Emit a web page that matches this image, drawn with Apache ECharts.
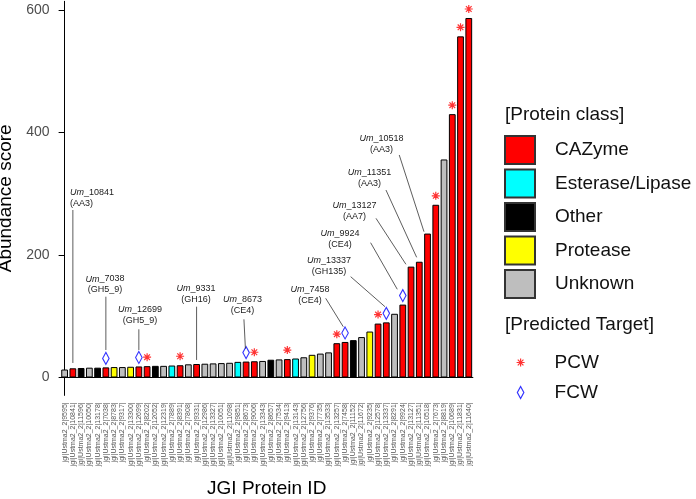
<!DOCTYPE html>
<html><head><meta charset="utf-8">
<script src="https://cdn.jsdelivr.net/npm/echarts@6/dist/echarts.min.js"></script>
<style>html,body{margin:0;padding:0;background:#fff}#c{width:696px;height:499px}</style>
</head><body><div id="c"></div>
<script>
// ---- data ----
const categories = ['9595','10841','11596','10050','13178','7038','8783','9317','13300','12699',
  '8202','12052','12319','7889','8391','7808','9331','12986','13327','10051',
  '11098','9851','8673','9006','13343','8657','7534','9413','13143','12756',
  '9376','7735','13533','13257','7458','11152','11672','9235','12578','13337',
  '8291','9924','13127','11351','10518','7673','8819','10689','11831','11640'].map(function(s){return 'jgi|Ustma2_2|' + s + '|';});
const values = [13, 15, 15.5, 16, 16, 16.5, 17, 17, 17.5, 18,
  18.5, 19, 19, 19.5, 20, 21.5, 22, 22.5, 23, 23.5,
  24, 25.5, 26, 26.5, 27, 29, 29.5, 30, 31, 33,
  37, 39, 41, 56, 58, 61, 66, 75, 88, 90,
  104, 119, 181, 189, 235, 282, 356, 430, 557, 587];
const proteinClass = ['Unknown','CAZyme','Other','Unknown','Other','CAZyme','Protease','Unknown','Protease','CAZyme',
  'CAZyme','Other','Unknown','Esterase/Lipase','CAZyme','Unknown','CAZyme','Unknown','Unknown','Unknown',
  'Unknown','Esterase/Lipase','CAZyme','CAZyme','Unknown','Other','Unknown','CAZyme','Esterase/Lipase','Unknown',
  'Protease','Unknown','Unknown','CAZyme','CAZyme','Other','Unknown','Protease','CAZyme','CAZyme',
  'Unknown','CAZyme','CAZyme','CAZyme','CAZyme','CAZyme','Unknown','CAZyme','CAZyme','CAZyme'];
const classNames = ['CAZyme','Esterase/Lipase','Other','Protease','Unknown'];
const pcwIndex = [10, 14, 23, 27, 33, 38, 45, 47, 48, 49];
const fcwIndex = [5, 9, 22, 34, 39, 41];
const yTickValues = [0, 200, 400, 600];
const annotationIds = ['10841','7038','12699','9331','8673','7458','13337','9924','13127','11351','10518'];
const annotationFamilies = ['AA3','GH5_9','GH5_9','GH16','CE4','CE4','GH135','CE4','AA7','AA3','AA3'];

// ---- layout (data units of the axes) ----
const annotationLayout = [
  {tx:0.64, ty:301.7, align:'left', sx:1, sy:273.5, ex:1, ey:23.7},
  {tx:4.89, ty:160.8, sx:5, sy:131.9, ex:5, ey:44.9},
  {tx:9.13, ty:111.3, sx:9, sy:78.7, ex:9, ey:44.9},
  {tx:15.92, ty:145.6, sx:16, sy:115.6, ex:16, ey:28.6},
  {tx:21.56, ty:127.7, sx:21.74, sy:95.0, ex:21.92, ey:47},
  {tx:29.74, ty:144.0, sx:31.65, sy:129.3, ex:33.78, ey:82.9},
  {tx:32.05, ty:191.8, sx:34.68, sy:164.6, ex:38.84, ey:115.6},
  {tx:33.38, ty:235.4, sx:37.1, sy:220.1, ex:40.33, ey:144.0},
  {tx:35.15, ty:281.6, sx:37.75, sy:259.9, ex:41.38, ey:184.8},
  {tx:36.96, ty:334.4, sx:38.96, sy:306.1, ex:42.68, ey:196.2},
  {tx:38.41, ty:390.5, sx:40.57, sy:363.3, ex:43.57, ey:238.0}
];

const FONT = '"Liberation Sans", Arial, Helvetica, sans-serif';
const classColors = {'CAZyme':'#FF0000','Esterase/Lipase':'#00FFFF','Other':'#000000','Protease':'#FFFF00','Unknown':'#BEBEBE'};
const asteriskPath = 'path://M5,0L5,10M0,5L10,5M1.46,1.46L8.54,8.54M1.46,8.54L8.54,1.46';

const chart = echarts.init(document.getElementById('c'), null, {renderer:'canvas'});

const barSeries = classNames.map(function(cn, k){
  const s = {
    name: cn, type: 'bar', stack: 'cls', barWidth: '82%',
    data: values.map(function(v, i){ return proteinClass[i] === cn ? v : '-'; }),
    itemStyle: {color: classColors[cn], borderColor: '#000', borderWidth: 1},
    emphasis: {disabled: true}, z: 2
  };
  if (k === 0) {
    s.markLine = {silent: true, symbol: 'none', label: {show: false}, animation: false,
      lineStyle: {color: '#000', width: 1, type: 'solid'}, data: [{yAxis: 0}]};
  }
  return s;
});

const option = {
  animation: false,
  grid: {left: 60.5, top: 1.3, width: 412.4, height: 394.1, containLabel: false, outerBoundsMode: 'none'},
  xAxis: [{
    type: 'category', data: categories,
    axisLine: {lineStyle: {color: '#000', width: 1}},
    axisTick: {alignWithLabel: true, length: 5, lineStyle: {color: '#000'}},
    axisLabel: {rotate: 90, interval: 0, fontSize: 7, color: '#555', fontFamily: FONT, margin: 7},
    name: 'JGI Protein ID', nameLocation: 'middle', nameGap: 84,
    nameTextStyle: {fontSize: 19, color: '#000', fontFamily: FONT}
  }, {
    type: 'value', min: -0.5, max: 49.5, show: false
  }],
  yAxis: {
    type: 'value', min: -29.25, max: 614.25, offset: 1,
    axisLine: {show: true, lineStyle: {color: '#000', width: 1}},
    axisTick: {show: true, length: 6, lineStyle: {color: '#000'}, customValues: yTickValues},
    axisLabel: {fontSize: 14, color: '#4d4d4d', fontFamily: FONT, margin: 10, customValues: yTickValues},
    splitLine: {show: false},
    name: 'Abundance score', nameLocation: 'middle', nameGap: 40,
    nameTextStyle: {fontSize: 19, color: '#000', fontFamily: FONT}
  },
  legend: [{
    data: classNames, orient: 'vertical', left: 504, top: 135, padding: 0,
    itemWidth: 30, itemHeight: 28, itemGap: 3.5, icon: 'rect', selectedMode: false,
    itemStyle: {borderColor: '#333', borderWidth: 2},
    textStyle: {fontSize: 19, color: '#111', fontFamily: FONT, padding: [0,0,0,15]}
  }, {
    data: ['PCW'], orient: 'vertical', left: 516, top: 353, padding: 0,
    itemWidth: 8, itemHeight: 8, selectedMode: false,
    itemStyle: {borderColor: '#FF0000', borderWidth: 1.2, color: 'transparent'},
    textStyle: {fontSize: 19, color: '#111', fontFamily: FONT, padding: [0,0,0,25]}
  }, {
    data: ['FCW'], orient: 'vertical', left: 516.75, top: 383, padding: 0,
    itemWidth: 6.5, itemHeight: 12, selectedMode: false,
    itemStyle: {borderColor: '#0000FF', borderWidth: 1.2, color: 'transparent'},
    textStyle: {fontSize: 19, color: '#111', fontFamily: FONT, padding: [0,0,0,25.75]}
  }],
  graphic: [
    {type: 'text', x: 505, y: 115, style: {text: '[Protein class]', font: '19px ' + FONT, fill: '#111', verticalAlign: 'middle'}},
    {type: 'text', x: 505, y: 325, style: {text: '[Predicted Target]', font: '19px ' + FONT, fill: '#111', verticalAlign: 'middle'}}
  ],
  series: barSeries.concat([
    {
      name: 'PCW', type: 'scatter', symbol: asteriskPath, symbolSize: 8, symbolOffset: [0, -9],
      data: pcwIndex.map(function(i){ return [i, values[i]]; }),
      itemStyle: {color: 'transparent', borderColor: '#FF0000', borderWidth: 1.2},
      emphasis: {disabled: true}, z: 5
    },
    {
      name: 'FCW', type: 'scatter', symbol: 'diamond', symbolSize: [6.5, 12], symbolOffset: [0, -9],
      data: fcwIndex.map(function(i){ return [i, values[i]]; }),
      itemStyle: {color: 'transparent', borderColor: '#0000FF', borderWidth: 1.2},
      emphasis: {disabled: true}, z: 5
    },
    {
      name: 'annotations', type: 'custom', xAxisIndex: 1, silent: true, z: 6,
      data: annotationLayout.map(function(a){ return [a.tx, a.ty]; }),
      renderItem: function(params, api){
        const i = params.dataIndex;
        const a = annotationLayout[i];
        const p = api.coord([a.tx, a.ty]);
        const s = api.coord([a.sx, a.sy]);
        const e = api.coord([a.ex, a.ey]);
        const align = a.align || 'center';
        return {type: 'group', children: [
          {type: 'line', shape: {x1: s[0], y1: s[1], x2: e[0], y2: e[1]},
            style: {stroke: '#333', lineWidth: 0.8}},
          {type: 'text', x: p[0], y: p[1], style: {
            text: '{i|Um}_' + annotationIds[i],
            rich: {i: {fontStyle: 'italic', fontSize: 9, fontFamily: FONT, fill: '#222'}},
            fontSize: 9, fontFamily: FONT, fill: '#222', align: align, verticalAlign: 'middle'}},
          {type: 'text', x: p[0], y: p[1] + 11, style: {
            text: '(' + annotationFamilies[i] + ')',
            fontSize: 9, fontFamily: FONT, fill: '#222', align: align, verticalAlign: 'middle'}}
        ]};
      }
    }
  ])
};
chart.setOption(option);
</script>
</body></html>
